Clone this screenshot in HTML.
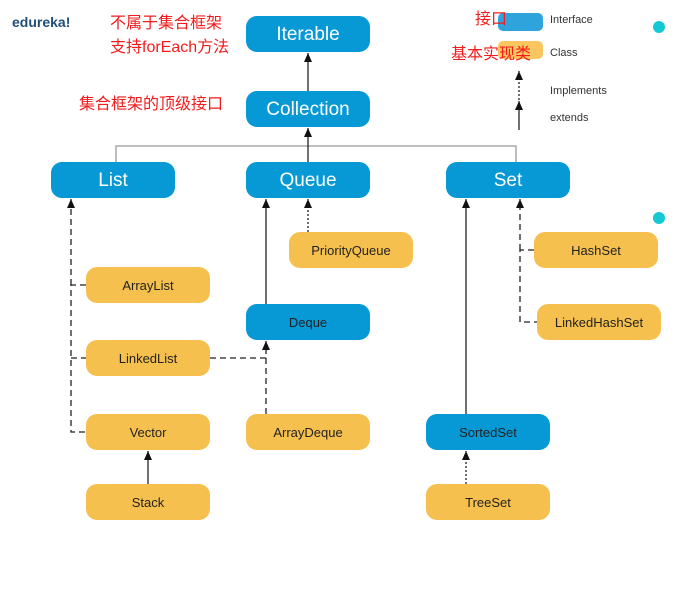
<!DOCTYPE html>
<html><head><meta charset="utf-8"><style>
html,body{margin:0;padding:0;background:#fff;}
svg{display:block}
text{font-family:"Liberation Sans",sans-serif;}
.b{fill:#0798d6}.y{fill:#f6c04f}
.bt{fill:#fff;font-size:19px;text-anchor:middle}
.st{fill:#222;font-size:13px;text-anchor:middle}
.red{fill:#f21c1c;font-size:16px;font-family:"Liberation Sans","Noto Sans CJK SC",sans-serif}
.l{stroke:#222;stroke-width:1.3;fill:none}
.d{stroke:#222;stroke-width:1.3;fill:none;stroke-dasharray:6,4}
.o{stroke:#222;stroke-width:1.3;fill:none;stroke-dasharray:2,2}
.g{stroke:#999;stroke-width:1.3;fill:none}
</style></head><body>
<svg width="675" height="600" viewBox="0 0 675 600">
<defs><marker id="a" markerWidth="10" markerHeight="10" refX="9" refY="4" orient="auto" markerUnits="userSpaceOnUse"><path d="M0,0 L9,4 L0,8Z" fill="#111"/></marker></defs>
<text x="12" y="27" font-size="14" font-weight="bold" fill="#1f4e79">edureka!</text>
<text x="110" y="28" class="red">不属于集合框架</text>
<text x="110" y="52" class="red">支持forEach方法</text>
<text x="79" y="109" class="red">集合框架的顶级接口</text>
<rect x="498" y="13" width="45" height="18" rx="5" fill="#2ea3dc"/>
<rect x="498" y="41" width="45" height="18" rx="5" fill="#f8c04f" opacity="0.9"/>
<text x="475" y="24" class="red">接口</text>
<text x="451" y="59" class="red">基本实现类</text>
<text x="550" y="23" font-size="11" fill="#333">Interface</text>
<text x="550" y="56" font-size="11" fill="#333">Class</text>
<text x="550" y="94" font-size="11" fill="#333">Implements</text>
<text x="550" y="121" font-size="11" fill="#333">extends</text>
<line x1="519" y1="100" x2="519" y2="71" class="o" marker-end="url(#a)"/>
<line x1="519" y1="130" x2="519" y2="101" class="l" marker-end="url(#a)"/>
<circle cx="659" cy="27" r="6" fill="#14c8d4"/>
<circle cx="659" cy="218" r="6" fill="#14c8d4"/>
<line x1="308" y1="91" x2="308" y2="53" class="l" marker-end="url(#a)"/>
<polyline points="116,162 116,146 516,146 516,162" class="g"/>
<line x1="308" y1="162" x2="308" y2="128" class="l" marker-end="url(#a)"/>
<polyline points="86,285 71,285 71,432 86,432" class="d"/>
<line x1="71" y1="285" x2="71" y2="199" class="d" marker-end="url(#a)"/>
<line x1="71" y1="358" x2="86" y2="358" class="d"/>
<line x1="210" y1="358" x2="266" y2="358" class="d"/>
<line x1="266" y1="414" x2="266" y2="341" class="d" marker-end="url(#a)"/>
<line x1="266" y1="304" x2="266" y2="199" class="l" marker-end="url(#a)"/>
<line x1="308" y1="232" x2="308" y2="199" class="o" marker-end="url(#a)"/>
<line x1="148" y1="484" x2="148" y2="451" class="l" marker-end="url(#a)"/>
<line x1="466" y1="414" x2="466" y2="199" class="l" marker-end="url(#a)"/>
<polyline points="534,250 520,250 520,322 537,322" class="d"/>
<line x1="520" y1="250" x2="520" y2="199" class="d" marker-end="url(#a)"/>
<line x1="466" y1="484" x2="466" y2="451" class="o" marker-end="url(#a)"/>
<rect x="246" y="16" width="124" height="36" rx="11" class="b"/><text x="308" y="40" class="bt">Iterable</text>
<rect x="246" y="91" width="124" height="36" rx="11" class="b"/><text x="308" y="115" class="bt">Collection</text>
<rect x="51" y="162" width="124" height="36" rx="11" class="b"/><text x="113" y="186" class="bt">List</text>
<rect x="246" y="162" width="124" height="36" rx="11" class="b"/><text x="308" y="186" class="bt">Queue</text>
<rect x="446" y="162" width="124" height="36" rx="11" class="b"/><text x="508" y="186" class="bt">Set</text>
<rect x="289" y="232" width="124" height="36" rx="11" class="y"/><text x="351" y="255" class="st">PriorityQueue</text>
<rect x="86" y="267" width="124" height="36" rx="11" class="y"/><text x="148" y="290" class="st">ArrayList</text>
<rect x="246" y="304" width="124" height="36" rx="11" class="b"/><text x="308" y="327" class="st">Deque</text>
<rect x="86" y="340" width="124" height="36" rx="11" class="y"/><text x="148" y="363" class="st">LinkedList</text>
<rect x="86" y="414" width="124" height="36" rx="11" class="y"/><text x="148" y="437" class="st">Vector</text>
<rect x="246" y="414" width="124" height="36" rx="11" class="y"/><text x="308" y="437" class="st">ArrayDeque</text>
<rect x="86" y="484" width="124" height="36" rx="11" class="y"/><text x="148" y="507" class="st">Stack</text>
<rect x="534" y="232" width="124" height="36" rx="11" class="y"/><text x="596" y="255" class="st">HashSet</text>
<rect x="537" y="304" width="124" height="36" rx="11" class="y"/><text x="599" y="327" class="st">LinkedHashSet</text>
<rect x="426" y="414" width="124" height="36" rx="11" class="b"/><text x="488" y="437" class="st">SortedSet</text>
<rect x="426" y="484" width="124" height="36" rx="11" class="y"/><text x="488" y="507" class="st">TreeSet</text>
</svg>
</body></html>
